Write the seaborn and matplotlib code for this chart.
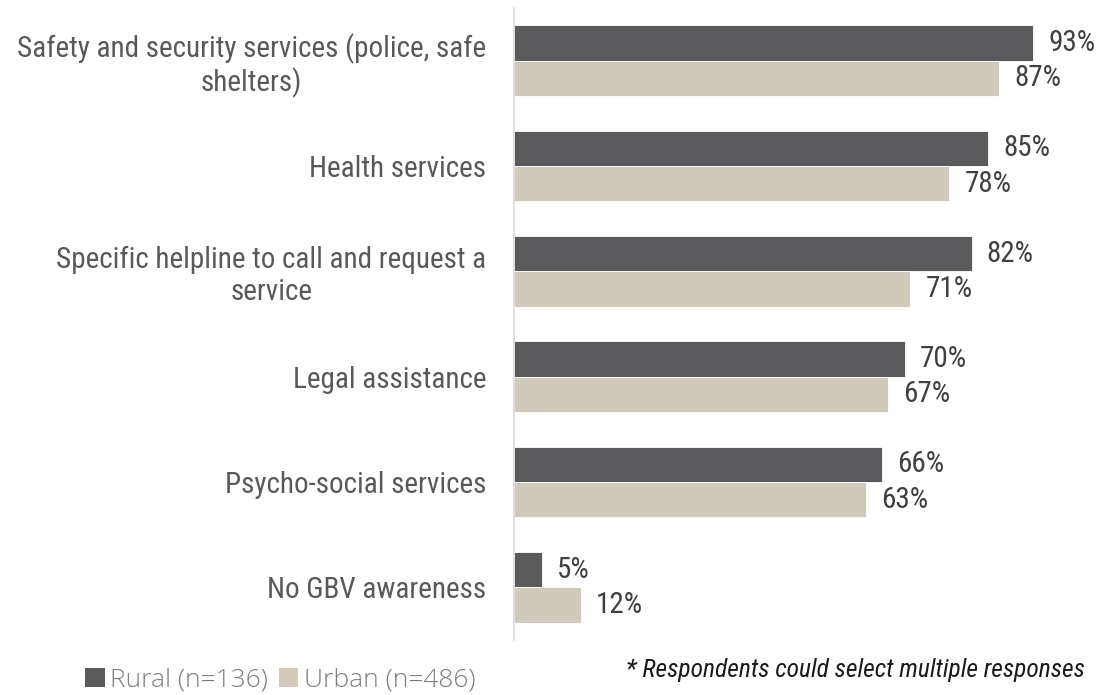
import matplotlib
matplotlib.use("Agg")
import matplotlib.pyplot as plt
import seaborn as sns
import pandas as pd
from matplotlib.patches import Patch

categories = [
    "Safety and security services (police, safe\nshelters)",
    "Health services",
    "Specific helpline to call and request a\nservice",
    "Legal assistance",
    "Psycho-social services",
    "No GBV awareness",
]
series_names = ["Rural (n=136)", "Urban (n=486)"]
rural = [93, 85, 82, 70, 66, 5]
urban = [87, 78, 71, 67, 63, 12]
colors = ["#5a5a5c", "#d3cbb8"]

df = pd.DataFrame({
    "category": categories * 2,
    "group": [series_names[0]] * len(categories) + [series_names[1]] * len(categories),
    "value": rural + urban,
})

sns.set_theme(style="white")
FAM = ["Roboto Condensed", "Roboto", "DejaVu Sans"]
plt.rcParams["font.family"] = FAM

fig = plt.figure(figsize=(11.02, 6.95), dpi=100)
ax = fig.add_axes([514 / 1102, 1 - 640 / 695, 558 / 1102, 632 / 695])

sns.barplot(data=df, y="category", x="value", hue="group", orient="h",
            palette=colors, width=0.67, edgecolor="white", linewidth=0.6,
            ax=ax, legend=False, errorbar=None)

ax.set_xlim(0, 100)
ax.set_ylim(5.5, -0.5)
ax.set_xlabel("")
ax.set_ylabel("")
ax.set_xticks([])
for s in ["top", "right", "bottom"]:
    ax.spines[s].set_visible(False)
ax.spines["left"].set_color("#d9d9d9")
ax.spines["left"].set_linewidth(1.2)
ax.tick_params(axis="y", length=0, pad=20, labelsize=21, labelcolor="#595959")
for lab in ax.get_yticklabels():
    lab.set_linespacing(1.15)
    lab.set_multialignment("center")
    lab.set_family(FAM)

for cont in ax.containers:
    ax.bar_label(cont, labels=[f"{v:.0f}%" for v in cont.datavalues],
                 padding=11, fontsize=21, color="#404040")

handles = [Patch(facecolor=c, edgecolor="none") for c in colors]
fig.legend(handles, series_names, loc="center left", bbox_to_anchor=(85 / 1102, 1 - 680 / 695),
           ncol=2, frameon=False, labelcolor="#7f7f7f", borderpad=0, borderaxespad=0,
           handlelength=0.75, handleheight=0.75, handletextpad=0.2, columnspacing=0.4,
           prop={"family": ["Open Sans", "DejaVu Sans"], "size": 19, "weight": "light"})

fig.text(1085 / 1102, 1 - 670 / 695, "* Respondents could select multiple responses",
         ha="right", va="center", fontsize=18.4, style="italic", color="#1a1a1a",
         family=FAM)

fig.savefig("out.png", dpi=100)
